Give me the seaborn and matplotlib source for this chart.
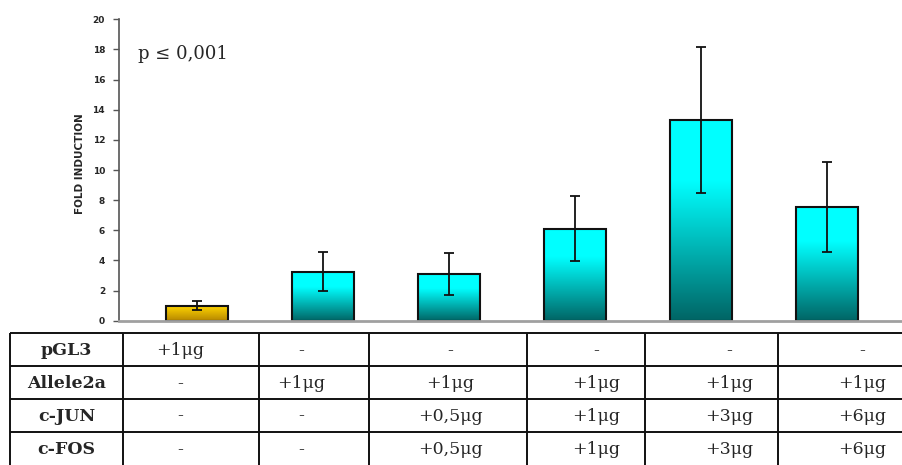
import numpy as np
import pandas as pd
import seaborn as sns
import matplotlib
matplotlib.use("Agg")
import matplotlib.pyplot as plt
from matplotlib.colors import to_rgb

# Luciferase assay: fold induction per transfection condition
conditions = ["pGL3", "A2a", "A2a+JF0.5", "A2a+JF1", "A2a+JF3", "A2a+JF6"]
fold_induction = [1.0, 3.25, 3.1, 6.1, 13.3, 7.55]
fold_error = [0.3, 1.3, 1.4, 2.15, 4.85, 3.0]

# Transfection table shown beneath the bars
row_labels = ["pGL3", "Allele2a", "c-JUN", "c-FOS"]
pgl3_row = ["+1μg", "-", "-", "-", "-", "-"]
allele2a_row = ["-", "+1μg", "+1μg", "+1μg", "+1μg", "+1μg"]
cjun_row = ["-", "-", "+0,5μg", "+1μg", "+3μg", "+6μg"]
cfos_row = ["-", "-", "+0,5μg", "+1μg", "+3μg", "+6μg"]
table_rows = [pgl3_row, allele2a_row, cjun_row, cfos_row]

y_ticks = list(range(0, 21, 2))

df = pd.DataFrame({"condition": conditions, "fold": fold_induction})

sns.set_theme(style="white")
plt.rcParams["font.family"] = ["DejaVu Sans"]

W, H = 903, 465
fig = plt.figure(figsize=(W / 100, H / 100), dpi=100)
fig.patch.set_facecolor("white")

ax = fig.add_axes([119 / W, (H - 320.7) / H, (W - 119) / W, (320.7 - 19.3) / H])

gold, cyan = "#f2c200", "#00ffff"
palette = {c: (gold if i == 0 else cyan) for i, c in enumerate(conditions)}
sns.barplot(data=df, x="condition", y="fold", hue="condition", palette=palette,
            order=conditions, hue_order=conditions, legend=False, errorbar=None,
            width=0.49, edgecolor="#111111", linewidth=1.5, ax=ax)


def gradient(top, bottom, flat=0.3, n=256):
    t = np.linspace(0, 1, n)
    t = np.clip((t - flat) / (1 - flat), 0, 1)
    top, bottom = np.array(to_rgb(top)), np.array(to_rgb(bottom))
    cols = top[None, :] * (1 - t[:, None]) + bottom[None, :] * t[:, None]
    return cols[:, None, :]


grad_cyan = gradient("#00ffff", "#006464", flat=0.3)
grad_gold = gradient("#f7cc00", "#b58600", flat=0.15)

bars = sorted(ax.patches, key=lambda p: p.get_x())
for i, patch in enumerate(bars):
    x0, w, h = patch.get_x(), patch.get_width(), patch.get_height()
    img = ax.imshow(grad_gold if i == 0 else grad_cyan, extent=(x0, x0 + w, 0, h),
                    origin="upper", aspect="auto", interpolation="bilinear",
                    zorder=patch.get_zorder() - 0.1)
    img.set_clip_path(patch)
    patch.set_facecolor("none")
    patch.set_zorder(patch.get_zorder() + 0.5)

ax.errorbar(x=np.arange(len(conditions)), y=fold_induction, yerr=fold_error,
            fmt="none", ecolor="#111111", elinewidth=1.3, capsize=3.5,
            capthick=1.3, zorder=5)

ax.set_xlim(-0.62, 5.6)
ax.set_ylim(0, 20)
ax.set_yticks(y_ticks)
ax.set_yticklabels([str(v) for v in y_ticks], fontsize=6.5, fontweight="bold")
ax.set_xticks([])
ax.set_xlabel("")
ax.set_ylabel("FOLD INDUCTION", fontsize=7.5, fontweight="bold")
ax.yaxis.set_label_coords(-0.043, 0.52)
ax.tick_params(axis="y", direction="out", length=4, width=1, color="#555555",
               pad=6, left=True)
for side in ("top", "right"):
    ax.spines[side].set_visible(False)
ax.spines["left"].set_color("#555555")
ax.spines["left"].set_linewidth(1.2)
ax.spines["bottom"].set_color("#a0a0a0")
ax.spines["bottom"].set_linewidth(2)
ax.set_facecolor("none")

fig.text(138 / W, 1 - 54 / H, "p ≤ 0,001", fontsize=13, family="DejaVu Serif",
         va="center", ha="left")

# Transfection table in pixel coordinates
tab = fig.add_axes([0, 0, 1, 1], zorder=3)
tab.set_xlim(0, W)
tab.set_ylim(H, 0)
tab.axis("off")
tab.patch.set_alpha(0)

row_edges = [333, 366, 398.5, 431.5]
col_edges = [10, 123, 259, 369, 527, 645, 778]
text_x = [180, 301, 450, 596, 729, 862]
lw = 1.4
for y in row_edges:
    tab.plot([col_edges[0], W], [y, y], color="#111111", lw=lw, solid_capstyle="butt")
for x in col_edges:
    tab.plot([x, x], [row_edges[0], H], color="#111111", lw=lw, solid_capstyle="butt")

row_centers = [(row_edges[i] + (row_edges[i + 1] if i + 1 < len(row_edges) else H + 1)) / 2
               for i in range(len(row_edges))]
for r, (label, values) in enumerate(zip(row_labels, table_rows)):
    yc = row_centers[r]
    tab.text((col_edges[0] + col_edges[1]) / 2, yc + 1, label, ha="center", va="center",
             fontsize=12.5, fontweight="bold", family="DejaVu Serif")
    for xc, val in zip(text_x, values):
        tab.text(xc, yc + 1, val, ha="center", va="center", fontsize=12.5,
                 family="DejaVu Serif")

fig.savefig("out.png", dpi=100, facecolor="white")
